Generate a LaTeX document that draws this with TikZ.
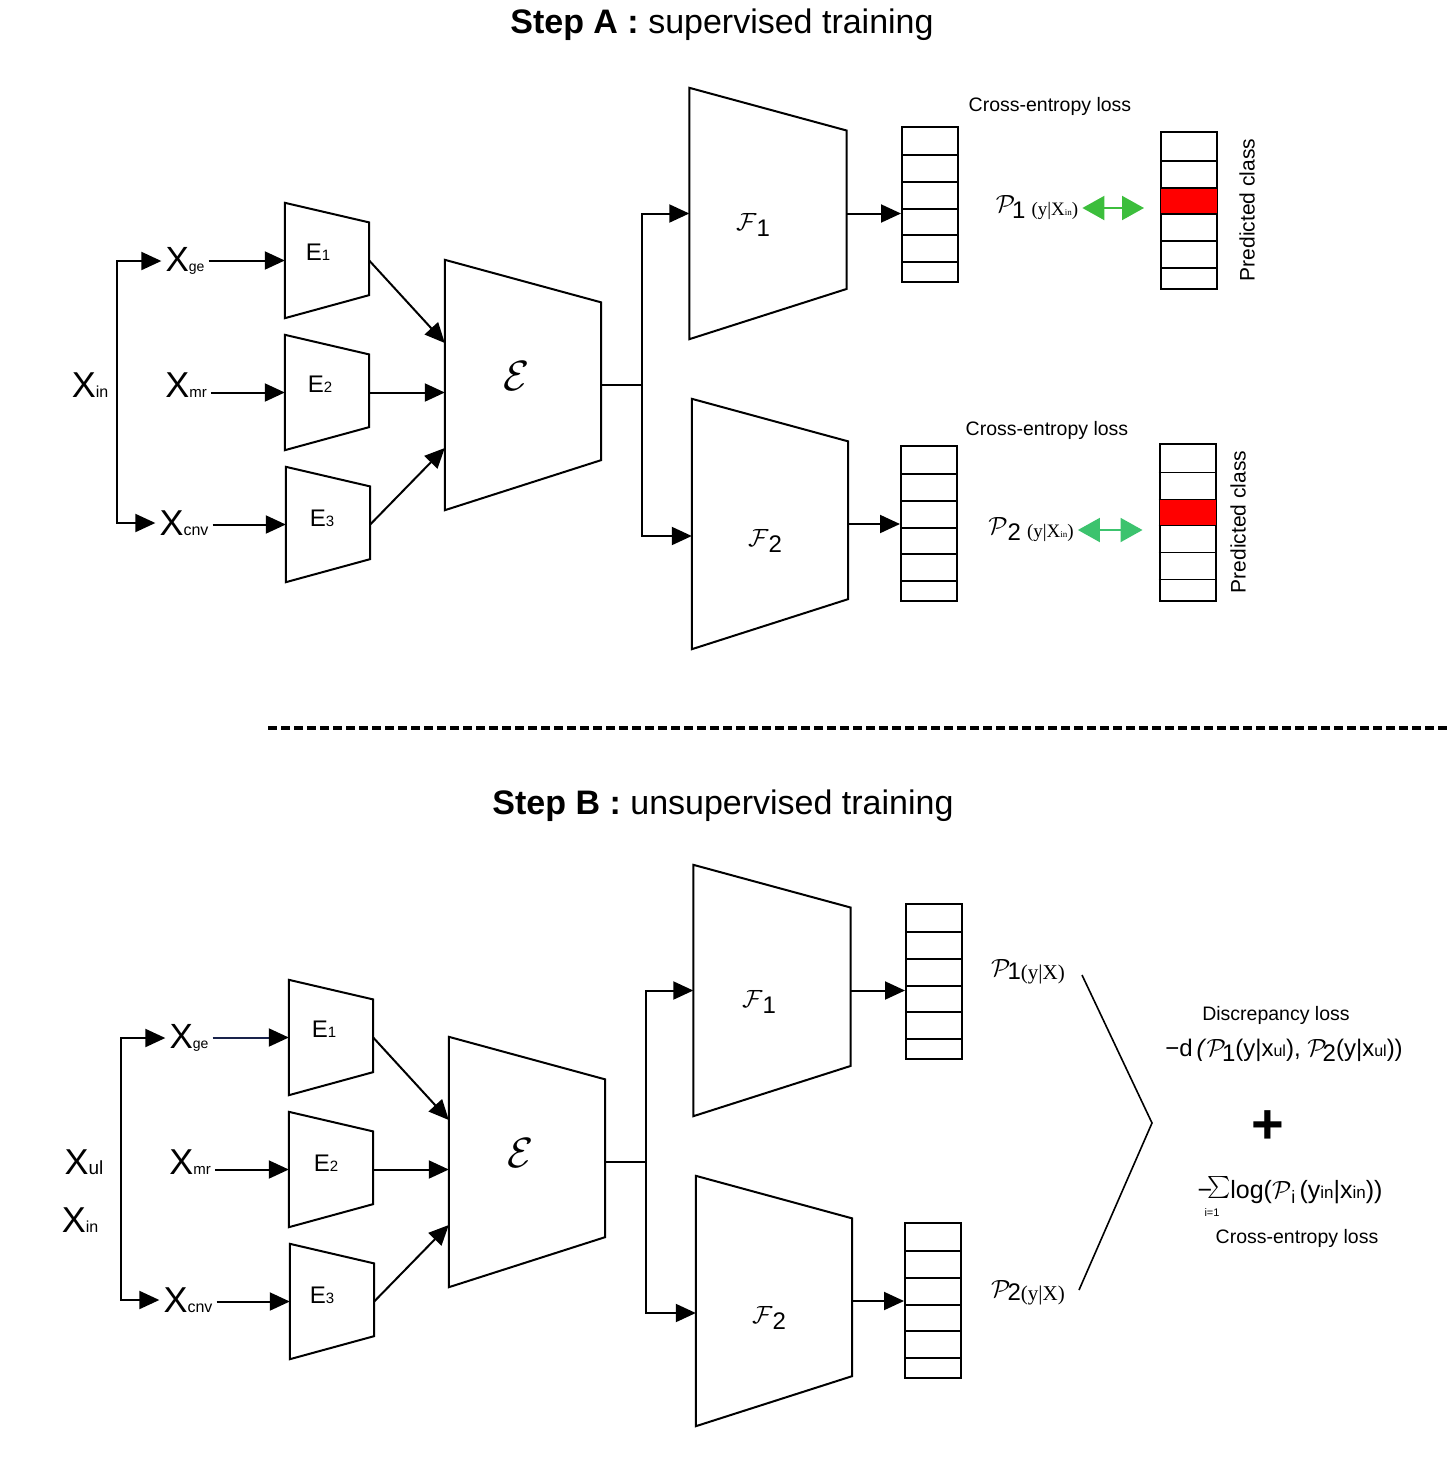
\documentclass[tikz,border=0pt]{standalone}
\usepackage{fontspec}
\usepackage{graphicx}
\setmainfont{Liberation Sans}
\newfontfamily\serifx{Liberation Serif}
\usetikzlibrary{arrows.meta,calc,positioning}
\newcommand{\fsz}[1]{\fontsize{#1}{#1}\selectfont}
% text moved off the node centre: #1 twice the x offset, #2 drop
\newcommand{\offlabel}[3]{\raisebox{#2}[0pt][0pt]{\makebox[0pt]{\hspace*{#1}#3}}}

\begin{document}
\begin{tikzpicture}[x=1pt, y=-1pt, every node/.style={inner sep=4pt}]
        \definecolor{agreen}{RGB}{60,190,60}
        \definecolor{bgreen}{RGB}{60,195,110}
        \definecolor{xnavy}{RGB}{25,35,75}
        \tikzset{
          arr/.style={-{Triangle[length=20pt,width=18pt]}, line width=2pt},
          garr/.style={{Triangle[length=22pt,width=24pt]}-{Triangle[length=22pt,width=24pt]}, line width=2pt, shorten >=16pt},
          trap/.style args={#1x#2}{minimum width=#1pt, minimum height=#2pt, inner sep=0pt},
          stack/.style={draw, line width=2pt, fill=white, minimum width=56pt, minimum height=155pt, inner sep=0pt},
          pstack/.style={draw, line width=2pt, fill=white, minimum width=56pt, minimum height=157pt, inner sep=0pt}
        }
        \path[use as bounding box, fill=white] (0,0) rectangle (1449,1470);

        % Step A
        \node[font={\fsz{34}}] (titA) at (722,25) {\textbf{Step A :} supervised training};

        \node[font={\fsz{36}}] (Xin) at (90,385) {X{\fsz{16}in}};
        \coordinate (split) at (117,385);
        \node[font={\fsz{35}}] (Xge) at (185,261) {X{\fsz{14}ge}};
        \node[font={\fsz{36}}] (Xmr) at (186,385) {X{\fsz{15}mr}};
        \node[font={\fsz{36}}] (Xcnv) at (184,523) {X{\fsz{16}cnv}};

        \node[trap=84x115] (E1) at (327,260.5) {\offlabel{-18pt}{0pt}{\fsz{24}E{\fsz{15}1}}};
        \node[trap=84x115] (E2) at (327,392.5) {\offlabel{-14pt}{0pt}{\fsz{24}E{\fsz{15}2}}};
        \node[trap=84x115] (E3) at (328,524.5) {\offlabel{-12pt}{-2pt}{\fsz{24}E{\fsz{15}3}}};
        \node[trap=156x250] (E) at (523,385) {\offlabel{-12pt}{-5pt}{\fsz{25}\scalebox{1.7}{$\mathcal{E}$}}};
        \coordinate (fork) at (642,385);
        \node[trap=157x251] (F1) at (768,213.5) {\offlabel{-30pt}{-17pt}{\fsz{26}$\mathcal{F}$\raisebox{-6pt}{\fsz{24}1}}};
        \node[trap=156x250] (F2) at (770,524) {\offlabel{-10pt}{-22pt}{\fsz{26}$\mathcal{F}$\raisebox{-6pt}{\fsz{24}2}}};

        \node[stack] (s1) at (930,204.5) {};
        \node[stack] (s2) at (929,523.5) {};
        \node[pstack] (pc1) at (1189,210.5) {};
        \node[pstack] (pc2) at (1187.5,522) {};

        \node[font={\fsz{19.5}}] (ce1) at (1050,106) {Cross-entropy loss};
        \node[font={\fsz{19.5}}] (ce2) at (1047,430) {Cross-entropy loss};
        \node (p1) at (1037,208) {\fsz{26}\raisebox{3pt}{$\mathcal{P}$}\kern-3pt\raisebox{-3pt}{\fsz{24}1}\hspace{6pt}{\serifx\fsz{19}(y|X{\fsz{9}in})}};
        \node (p2) at (1031,530) {\fsz{26}\raisebox{3pt}{$\mathcal{P}$}\raisebox{-3pt}{\fsz{24}2}\hspace{6pt}{\serifx\fsz{19}(y|X{\fsz{9}in})}};
        \node[font={\fsz{21}}, rotate=90] (pcl1) at (1247,210) {Predicted class};
        \node[font={\fsz{21}}, rotate=90] (pcl2) at (1238,522) {Predicted class};

        \draw[arr] (split) |- (Xge);
        \draw[arr] (split) |- (Xcnv);
        \draw[arr] (Xge.east |- E1) -- (E1);
        \draw[arr] (Xmr.east |- E2) -- (E2);
        \draw[arr] (Xcnv.east |- E3) -- (E3);
        \draw[arr] (E1.east) -- ([yshift=42pt]E.west);
        \draw[arr] (E2) -- (E2 -| E.west);
        \draw[arr] (E3.east) -- ([yshift=-63pt]E.west);
        \draw[line width=2pt] (E) -- (fork);
        \draw[arr] (fork) |- (F1);
        \draw[arr] (fork) |- ([yshift=-12pt]F2.west);
        \draw[arr] (F1) -- (F1 -| s1.west);
        \draw[arr] (F2) -- (F2 -| s2.west);
        \draw[garr, draw=agreen] (p1) -- (p1 -| pc1.west);
        \draw[garr, draw=bgreen] (p2) -- (p2 -| pc2.west);

        % separator
        \draw[line width=4pt, dash pattern=on 9pt off 4pt] (268,728) -- (1449,728);

        % Step B
        \node[font={\fsz{34}}] (titB) at (723,806) {\textbf{Step B :} unsupervised training};
        \node[font={\fsz{36}}] (Xul) at (84,1162) {X{\fsz{19}ul}};
        \node[font={\fsz{36}}] (Xinb) at (80,1220) {X{\fsz{16}in}};

        \begin{scope}[shift={(4,777)}]
          \coordinate (splitb) at (117,385);
          \node[font={\fsz{35}}] (Xgeb) at (185,261) {X{\fsz{14}ge}};
          \node[font={\fsz{36}}] (Xmrb) at (186,385) {X{\fsz{15}mr}};
          \node[font={\fsz{36}}] (Xcnvb) at (184,523) {X{\fsz{16}cnv}};

          \node[trap=84x115] (E1b) at (327,260.5) {\offlabel{-14pt}{0pt}{\fsz{24}E{\fsz{15}1}}};
          \node[trap=84x115] (E2b) at (327,392.5) {\offlabel{-10pt}{-2pt}{\fsz{24}E{\fsz{15}2}}};
          \node[trap=84x115] (E3b) at (328,524.5) {\offlabel{-20pt}{-2pt}{\fsz{24}E{\fsz{15}3}}};
          \node[trap=156x250] (Eb) at (523,385) {\offlabel{-12pt}{-5pt}{\fsz{25}\scalebox{1.7}{$\mathcal{E}$}}};
          \coordinate (forkb) at (642,385);
          \node[trap=157x251] (F1b) at (768,213.5) {\offlabel{-26pt}{-17pt}{\fsz{26}$\mathcal{F}$\raisebox{-6pt}{\fsz{24}1}}};
          \node[trap=156x250] (F2b) at (770,524) {\offlabel{-10pt}{-22pt}{\fsz{26}$\mathcal{F}$\raisebox{-6pt}{\fsz{24}2}}};

          \node[stack] (s1b) at (930,204.5) {};
          \node[stack] (s2b) at (929,523.5) {};

          \draw[arr] (splitb) |- (Xgeb);
          \draw[arr] (splitb) |- (Xcnvb);
          \draw[line width=2pt, draw=xnavy, -{Triangle[length=20pt,width=18pt,color=black]}] (Xgeb.east |- E1b) -- (E1b);
          \draw[arr] (Xmrb.east |- E2b) -- (E2b);
          \draw[arr] (Xcnvb.east |- E3b) -- (E3b);
          \draw[arr] (E1b.east) -- ([yshift=42pt]Eb.west);
          \draw[arr] (E2b) -- (E2b -| Eb.west);
          \draw[arr] (E3b.east) -- ([yshift=-63pt]Eb.west);
          \draw[line width=2pt] (Eb) -- (forkb);
          \draw[arr] (forkb) |- (F1b);
          \draw[arr] (forkb) |- ([yshift=-12pt]F2b.west);
          \draw[arr] (F1b) -- (F1b -| s1b.west);
          \draw[arr] (F2b) -- (F2b -| s2b.west);
        \end{scope}

        % trapezoids and stack rows
        \foreach \n in {E1,E2,E3,E,F1,F2,E1b,E2b,E3b,Eb,F1b,F2b}
          \draw[line width=2pt] (\n.north west) -- ($(\n.north east)!0.17!(\n.south east)$)
            -- ($(\n.south east)!0.2!(\n.north east)$) -- (\n.south west) -- cycle;
        \foreach \s in {s1,s2,s1b,s2b}
          \foreach \d in {29,56,83,109,136}
            \draw[line width=1.6pt] ([yshift=-\d pt]\s.north west) -- ([yshift=-\d pt]\s.north east);
        \foreach \s in {pc1,pc2} {
          \fill[red] ([xshift=1pt,yshift=-57pt]\s.north west) rectangle ([xshift=-1pt,yshift=-83pt]\s.north east);
          \foreach \d in {30,57,83,110,137}
            \draw[line width=1.6pt] ([yshift=-\d pt]\s.north west) -- ([yshift=-\d pt]\s.north east);
        }

        % losses
        \node (p1b) at (1028,972) {\fsz{26}\raisebox{3pt}{$\mathcal{P}$}\kern-3pt{\fsz{24}1}{\serifx\fsz{21}(y|X)}};
        \node (p2b) at (1028,1293) {\fsz{26}\raisebox{3pt}{$\mathcal{P}$}\kern-3pt{\fsz{24}2}{\serifx\fsz{21}(y|X)}};
        \draw[line width=1.6pt] (1082,975) -- (1152,1123) -- (1079,1290);
        \node[font={\fsz{19.5}}] (disc) at (1276,1015) {Discrepancy loss};
        \node[font={\fsz{24}}] (dform) at (1284,1050) {−d\,\textit{(}$\mathcal{P}$\kern-4pt\raisebox{-5pt}{1}(y|x{\fsz{16}ul}), $\mathcal{P}$\kern-4pt\raisebox{-5pt}{2}(y|x{\fsz{16}ul}))};
        \node[font={\fsz{56}\bfseries}] (plus) at (1268,1127) {+};
        \node[font={\fsz{25}}] (sform) at (1290,1190) {−\kern-5pt\raisebox{-3pt}{\scalebox{2.2}{$\sum$}}log($\mathcal{P}$\raisebox{-5pt}{\fsz{18}i}\,(y{\fsz{17}in}|x{\fsz{17}in}))};
        \node[font={\fsz{11}}] (sidx) at (1212,1212) {i=1};
        \node[font={\fsz{19.5}}] (ce3) at (1297,1238) {Cross-entropy loss};
\end{tikzpicture}
\end{document}
